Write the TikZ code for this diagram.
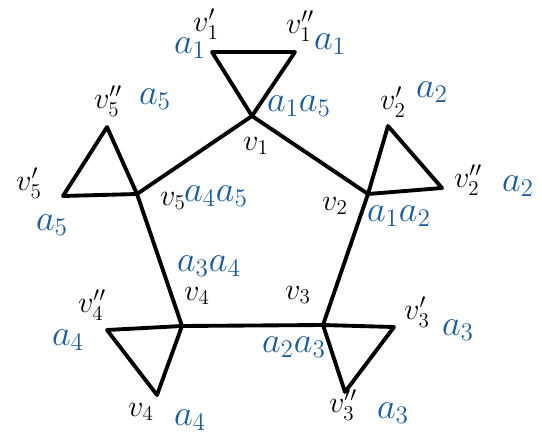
\documentclass[tikz,border=0pt]{standalone}
\usepackage{amsmath,amssymb}
\usepackage{xcolor}
\usepackage{tikz}
\usetikzlibrary{positioning}
\definecolor{inkblue}{RGB}{28,92,153}

\begin{document}
\begin{tikzpicture}[
    x=0.02cm, y=-0.02cm,
    edge/.style={line width=2.2pt, line join=round, line cap=round},
    vlab/.style={font=\LARGE, inner sep=0pt},
    alab/.style={font=\huge, text=inkblue, inner sep=0pt}
]
\useasboundingbox (0,0) rectangle (542,440);

% Pentagon
\coordinate (v1) at (252,116);
\coordinate (v2) at (368,194);
\coordinate (v3) at (323,325);
\coordinate (v4) at (182,326);
\coordinate (v5) at (137,194);
\draw[edge] (v1) -- (v2) -- (v3) -- (v4) -- (v5) -- cycle;

% Triangles at the corners
\coordinate (v1p) at (212,52);
\coordinate (v1pp) at (295,52);
\coordinate (v2p) at (388,126);
\coordinate (v2pp) at (442,188);
\coordinate (v3p) at (394,327);
\coordinate (v3pp) at (345,392);
\coordinate (v4p) at (157,395);
\coordinate (v4pp) at (107,330);
\coordinate (v5p) at (63,196);
\coordinate (v5pp) at (107,127);
\draw[edge] (v1) -- (v1p) -- (v1pp) -- cycle;
\draw[edge] (v2) -- (v2p) -- (v2pp) -- cycle;
\draw[edge] (v3) -- (v3p) -- (v3pp) -- cycle;
\draw[edge] (v4) -- (v4p) -- (v4pp) -- cycle;
\draw[edge] (v5) -- (v5p) -- (v5pp) -- cycle;

% Vertex labels
\node[vlab] (l1) at (256,146) {$v_1$};
\node[vlab] (l1p) at (206,24) {$v_1'$};
\node[vlab] (l1pp) at (300,26) {$v_1''$};
\node[vlab] (l2) at (335,206) {$v_2$};
\node[vlab] (l2p) at (393,102) {$v_2'$};
\node[vlab] (l2pp) at (468,180) {$v_2''$};
\node[vlab] (l3) at (298,295) {$v_3$};
\node[vlab] (l3p) at (417,312) {$v_3'$};
\node[vlab] (l3pp) at (343,405) {$v_3''$};
\node[vlab] (l4) at (197,296) {$v_4$};
\node[vlab] (l4pp) at (92,305) {$v_4''$};
\node[vlab] (l4b) at (141,412) {$v_4$};
\node[vlab] (l5) at (173,201) {$v_5$};
\node[vlab] (l5p) at (29,183) {$v_5'$};
\node[vlab] (l5pp) at (108,101) {$v_5''$};

% Edge labels
\node[alab] (a1l) at (190,48) {$a_1$};
\node[alab] (a1r) at (330,44) {$a_1$};
\node[alab] (a15) at (299,106) {$a_1a_5$};
\node[alab] (a2t) at (432,92) {$a_2$};
\node[alab] (a2r) at (518,186) {$a_2$};
\node[alab] (a12) at (399,216) {$a_1a_2$};
\node[alab] (a3r) at (458,330) {$a_3$};
\node[alab] (a3b) at (393,413) {$a_3$};
\node[alab] (a23) at (294,347) {$a_2a_3$};
\node[alab] (a34) at (209,266) {$a_3a_4$};
\node[alab] (a4l) at (68,340) {$a_4$};
\node[alab] (a4b) at (190,420) {$a_4$};
\node[alab] (a45) at (216,196) {$a_4a_5$};
\node[alab] (a5t) at (155,99) {$a_5$};
\node[alab] (a5l) at (52,225) {$a_5$};
\end{tikzpicture}
\end{document}
